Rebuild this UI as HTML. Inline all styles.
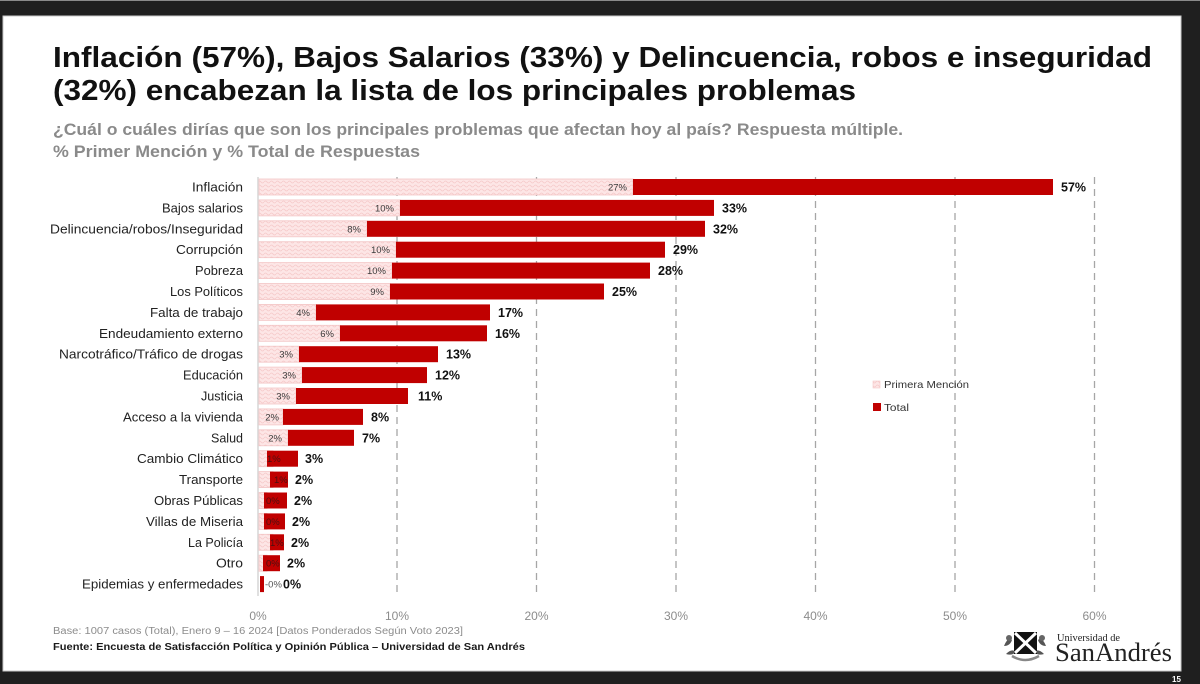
<!DOCTYPE html>
<html>
<head>
<meta charset="utf-8">
<style>
html,body{margin:0;padding:0;background:#1f1f1f;}
svg{display:block;}
text{font-family:"Liberation Sans",sans-serif;}
</style>
</head>
<body>
<svg width="1200" height="684" viewBox="0 0 1200 684" xmlns="http://www.w3.org/2000/svg">
<defs>
<pattern id="pk" width="6" height="4" patternUnits="userSpaceOnUse">
<rect width="6" height="4" fill="#fde6e6"/>
<path d="M0 2 Q1.5 0 3 2 T6 2" fill="none" stroke="#f6caca" stroke-width="0.8"/>
</pattern>
</defs>
<rect x="0" y="0" width="1200" height="684" fill="#1f1f1f"/>
<rect x="0" y="0" width="1200" height="1" fill="#8a8a8a"/>
<rect x="3" y="16" width="1178" height="655" fill="#ffffff" stroke="#c8c8c8" stroke-width="1"/>

<!-- Title -->
<text x="53" y="67" font-size="29" font-weight="bold" fill="#111" textLength="1099" lengthAdjust="spacingAndGlyphs">Inflación (57%), Bajos Salarios (33%) y Delincuencia, robos e inseguridad</text>
<text x="53" y="100" font-size="29" font-weight="bold" fill="#111" textLength="803" lengthAdjust="spacingAndGlyphs">(32%) encabezan la lista de los principales problemas</text>
<text x="53" y="135" font-size="16.5" font-weight="bold" fill="#8a8a8a" textLength="850" lengthAdjust="spacingAndGlyphs">¿Cuál o cuáles dirías que son los principales problemas que afectan hoy al país? Respuesta múltiple.</text>
<text x="53" y="157" font-size="16.5" font-weight="bold" fill="#8a8a8a" textLength="367" lengthAdjust="spacingAndGlyphs">% Primer Mención y % Total de Respuestas</text>

<!-- Grid -->
<g stroke="#a6a6a6" stroke-width="1.3" stroke-dasharray="7 5">
<line x1="397" y1="177" x2="397" y2="596"/>
<line x1="536.5" y1="177" x2="536.5" y2="596"/>
<line x1="676" y1="177" x2="676" y2="596"/>
<line x1="815.5" y1="177" x2="815.5" y2="596"/>
<line x1="955" y1="177" x2="955" y2="596"/>
<line x1="1094.5" y1="177" x2="1094.5" y2="596"/>
</g>
<line x1="258" y1="177" x2="258" y2="596" stroke="#d6d6d6" stroke-width="1.5"/>

<!-- Axis labels -->
<g font-size="12" fill="#8c8c8c" text-anchor="middle">
<text x="258" y="620">0%</text>
<text x="397" y="620">10%</text>
<text x="536.5" y="620">20%</text>
<text x="676" y="620">30%</text>
<text x="815.5" y="620">40%</text>
<text x="955" y="620">50%</text>
<text x="1094.5" y="620">60%</text>
</g>

<!-- Category labels -->
<g font-size="12.5" fill="#222" text-anchor="end">
<text x="243" y="191.5" textLength="51" lengthAdjust="spacingAndGlyphs">Inflación</text>
<text x="243" y="212.4" textLength="81" lengthAdjust="spacingAndGlyphs">Bajos salarios</text>
<text x="243" y="233.3" textLength="193" lengthAdjust="spacingAndGlyphs">Delincuencia/robos/Inseguridad</text>
<text x="243" y="254.2" textLength="67" lengthAdjust="spacingAndGlyphs">Corrupción</text>
<text x="243" y="275.1" textLength="48" lengthAdjust="spacingAndGlyphs">Pobreza</text>
<text x="243" y="296.0" textLength="73" lengthAdjust="spacingAndGlyphs">Los Políticos</text>
<text x="243" y="316.9" textLength="93" lengthAdjust="spacingAndGlyphs">Falta de trabajo</text>
<text x="243" y="337.8" textLength="144" lengthAdjust="spacingAndGlyphs">Endeudamiento externo</text>
<text x="243" y="358.7" textLength="184" lengthAdjust="spacingAndGlyphs">Narcotráfico/Tráfico de drogas</text>
<text x="243" y="379.6" textLength="60" lengthAdjust="spacingAndGlyphs">Educación</text>
<text x="243" y="400.5" textLength="42" lengthAdjust="spacingAndGlyphs">Justicia</text>
<text x="243" y="421.4" textLength="120" lengthAdjust="spacingAndGlyphs">Acceso a la vivienda</text>
<text x="243" y="442.3" textLength="32" lengthAdjust="spacingAndGlyphs">Salud</text>
<text x="243" y="463.2" textLength="106" lengthAdjust="spacingAndGlyphs">Cambio Climático</text>
<text x="243" y="484.1" textLength="64" lengthAdjust="spacingAndGlyphs">Transporte</text>
<text x="243" y="505.0" textLength="89" lengthAdjust="spacingAndGlyphs">Obras Públicas</text>
<text x="243" y="525.9" textLength="97" lengthAdjust="spacingAndGlyphs">Villas de Miseria</text>
<text x="243" y="546.8" textLength="55" lengthAdjust="spacingAndGlyphs">La Policía</text>
<text x="243" y="567.7" textLength="27" lengthAdjust="spacingAndGlyphs">Otro</text>
<text x="243" y="588.6" textLength="161" lengthAdjust="spacingAndGlyphs">Epidemias y enfermedades</text>
</g>

<!-- Pink (primera mención) bars -->
<g fill="url(#pk)" stroke="#f3c6c6" stroke-width="0.8">
<rect x="259" y="179" width="374" height="16"/>
<rect x="259" y="199.9" width="141" height="16"/>
<rect x="259" y="220.8" width="108" height="16"/>
<rect x="259" y="241.7" width="137" height="16"/>
<rect x="259" y="262.6" width="133" height="16"/>
<rect x="259" y="283.5" width="131" height="16"/>
<rect x="259" y="304.4" width="57" height="16"/>
<rect x="259" y="325.3" width="81" height="16"/>
<rect x="259" y="346.2" width="40" height="16"/>
<rect x="259" y="367.1" width="43" height="16"/>
<rect x="259" y="388" width="37" height="16"/>
<rect x="259" y="408.9" width="24" height="16"/>
<rect x="259" y="429.8" width="29" height="16"/>
<rect x="259" y="450.7" width="14" height="16"/>
<rect x="259" y="471.6" width="14" height="16"/>
<rect x="259" y="492.5" width="8" height="16"/>
<rect x="259" y="513.4" width="8" height="16"/>
<rect x="259" y="534.3" width="14" height="16"/>
<rect x="259" y="555.2" width="8" height="16"/>
</g>

<!-- Red (total) bars -->
<g fill="#c00000">
<rect x="633" y="179" width="420" height="16"/>
<rect x="400" y="199.9" width="314" height="16"/>
<rect x="367" y="220.8" width="338" height="16"/>
<rect x="396" y="241.7" width="269" height="16"/>
<rect x="392" y="262.6" width="258" height="16"/>
<rect x="390" y="283.5" width="214" height="16"/>
<rect x="316" y="304.4" width="174" height="16"/>
<rect x="340" y="325.3" width="147" height="16"/>
<rect x="299" y="346.2" width="139" height="16"/>
<rect x="302" y="367.1" width="125" height="16"/>
<rect x="296" y="388" width="112" height="16"/>
<rect x="283" y="408.9" width="80" height="16"/>
<rect x="288" y="429.8" width="66" height="16"/>
<rect x="267" y="450.7" width="31" height="16"/>
<rect x="270" y="471.6" width="18" height="16"/>
<rect x="264" y="492.5" width="23" height="16"/>
<rect x="264" y="513.4" width="21" height="16"/>
<rect x="270" y="534.3" width="14" height="16"/>
<rect x="263" y="555.2" width="17" height="16"/>
<rect x="260" y="576.1" width="4" height="16"/>
</g>

<!-- First mention labels -->
<g font-size="9.5" fill="#3a3a3a" text-anchor="end">
<text x="627" y="190.5">27%</text>
<text x="394" y="211.4">10%</text>
<text x="361" y="232.3">8%</text>
<text x="390" y="253.2">10%</text>
<text x="386" y="274.1">10%</text>
<text x="384" y="295.0">9%</text>
<text x="310" y="315.9">4%</text>
<text x="334" y="336.8">6%</text>
<text x="293" y="357.7">3%</text>
<text x="296" y="378.6">3%</text>
<text x="290" y="399.5">3%</text>
<text x="279" y="420.4">2%</text>
<text x="282" y="441.3">2%</text>
</g>
<g font-size="9.5" fill="#4a1010">
<text x="267" y="462.2">1%</text>
<text x="274" y="483.1">1%</text>
<text x="266" y="504.0">0%</text>
<text x="266" y="524.9">0%</text>
<text x="270" y="545.8">1%</text>
<text x="266" y="566.7">0%</text>
<text x="265" y="587.6" fill="#555">-0%</text>
</g>

<!-- Total labels -->
<g font-size="12.5" font-weight="bold" fill="#111">
<text x="1061" y="191.5">57%</text>
<text x="722" y="212.4">33%</text>
<text x="713" y="233.3">32%</text>
<text x="673" y="254.2">29%</text>
<text x="658" y="275.1">28%</text>
<text x="612" y="296.0">25%</text>
<text x="498" y="316.9">17%</text>
<text x="495" y="337.8">16%</text>
<text x="446" y="358.7">13%</text>
<text x="435" y="379.6">12%</text>
<text x="418" y="400.5">11%</text>
<text x="371" y="421.4">8%</text>
<text x="362" y="442.3">7%</text>
<text x="305" y="463.2">3%</text>
<text x="295" y="484.1">2%</text>
<text x="294" y="505.0">2%</text>
<text x="292" y="525.9">2%</text>
<text x="291" y="546.8">2%</text>
<text x="287" y="567.7">2%</text>
<text x="283" y="588.6">0%</text>
</g>

<!-- Legend -->
<rect x="873" y="381" width="7" height="7" fill="url(#pk)" stroke="#f3c6c6" stroke-width="0.6"/>
<text x="884" y="388" font-size="10.5" fill="#333" textLength="85" lengthAdjust="spacingAndGlyphs">Primera Mención</text>
<rect x="873" y="403" width="8" height="8" fill="#c00000"/>
<text x="884" y="411" font-size="10.5" fill="#333" textLength="25" lengthAdjust="spacingAndGlyphs">Total</text>

<!-- Footer -->
<text x="53" y="634" font-size="10" fill="#8c8c8c" textLength="410" lengthAdjust="spacingAndGlyphs">Base: 1007 casos (Total), Enero 9 – 16 2024 [Datos Ponderados Según Voto 2023]</text>
<text x="53" y="650" font-size="10.5" font-weight="bold" fill="#1a1a1a" textLength="472" lengthAdjust="spacingAndGlyphs">Fuente: Encuesta de Satisfacción Política y Opinión Pública – Universidad de San Andrés</text>

<!-- Logo -->
<g>
<path d="M1004 646 q4 -10 8 -6 q-2 6 -8 6z M1006 654 q6 -6 10 -2 q-4 4 -10 2z M1046 646 q-4 -10 -8 -6 q2 6 8 6z M1044 654 q-6 -6 -10 -2 q4 4 10 2z" fill="#555"/>
<circle cx="1009" cy="638" r="3" fill="#666"/>
<circle cx="1042" cy="638" r="3" fill="#666"/>
<rect x="1014" y="632" width="23" height="22" fill="#111"/>
<path d="M1015 633 L1036 653 M1036 633 L1015 653" stroke="#fff" stroke-width="3"/>
<path d="M1012 656 q13 8 27 0" fill="none" stroke="#888" stroke-width="2.5"/>
<text x="1057" y="641" font-family="Liberation Serif, serif" font-size="10" fill="#222" textLength="63" lengthAdjust="spacingAndGlyphs" style="font-family:'Liberation Serif',serif">Universidad de</text>
<text x="1055" y="661" font-size="26" fill="#222" textLength="117" lengthAdjust="spacingAndGlyphs" style="font-family:'Liberation Serif',serif">SanAndrés</text>
</g>

<!-- Page number -->
<text x="1172" y="682" font-size="8" font-weight="bold" fill="#ffffff">15</text>
</svg>
</body>
</html>
